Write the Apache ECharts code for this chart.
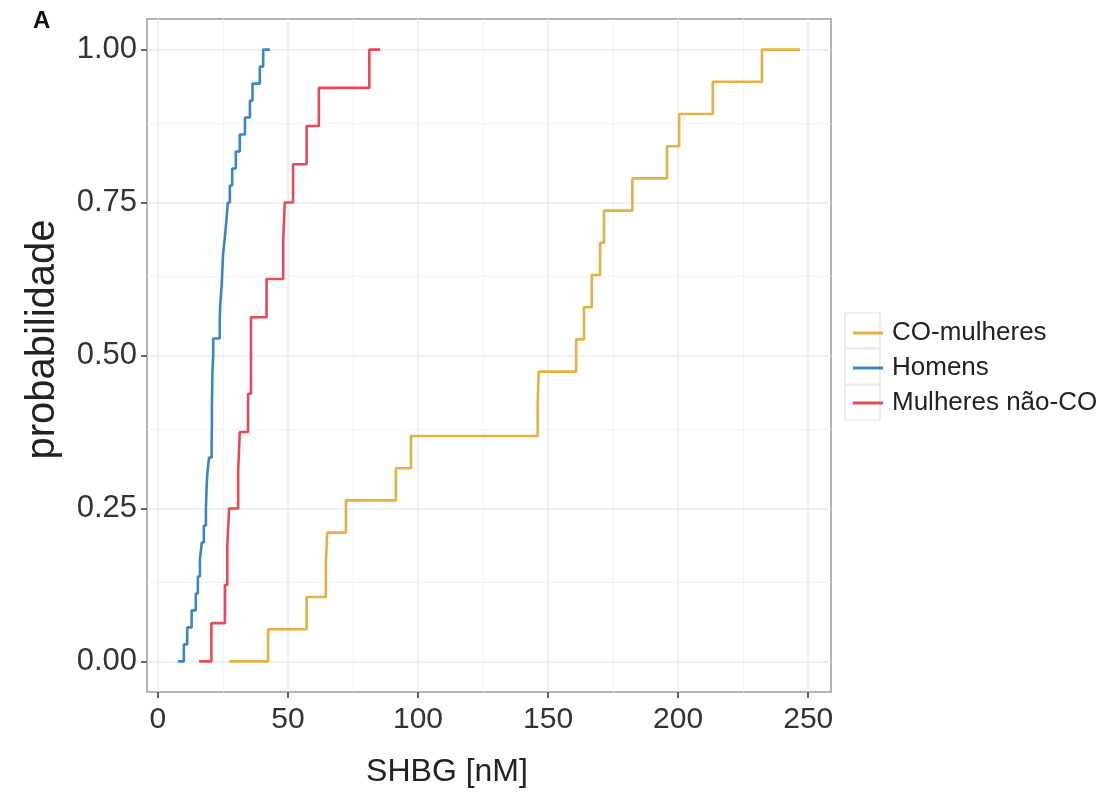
<!DOCTYPE html>
<html>
<head>
<meta charset="utf-8">
<script src="https://cdn.jsdelivr.net/npm/echarts@6/dist/echarts.min.js"></script>
<style>
  html, body { margin: 0; padding: 0; background: #fff; }
  #chart { width: 1105px; height: 793px; }
</style>
</head>
<body>
<div id="chart"></div>
<script>
  // amostras de SHBG [nM] (ja ordenadas)
  const coMulheres = [42.4, 57.2, 64.6, 65.1, 72.3, 91.5, 97.3, 146.0, 146.4, 160.8,
    163.8, 166.8, 170.0, 171.5, 182.4, 195.7, 200.4, 213.3, 232.2];
  const homens = [10.0, 11.3, 13.0, 14.6, 15.4, 16.2, 16.9, 17.7, 18.5, 18.7, 19.0, 19.7,
    20.7, 20.8, 20.8, 20.9, 21.0, 21.3, 21.3, 23.8, 24.0, 24.5, 24.8, 25.1, 25.8, 26.4,
    26.9, 27.7, 28.6, 30.0, 31.5, 33.5, 35.4, 36.4, 39.2, 40.5];
  const mulheresNaoCO = [20.6, 25.8, 26.7, 27.4, 30.9, 31.5, 34.7, 35.8, 35.8, 41.8,
    48.2, 48.8, 52.0, 57.2, 61.9, 81.3];

  // inicio e fim de cada curva no eixo x
  const limites = {
    'CO-mulheres': [27.4, 246.8],
    'Homens': [7.8, 43.1],
    'Mulheres não-CO': [15.9, 85.4]
  };

  const nomes = ['CO-mulheres', 'Homens', 'Mulheres não-CO'];
  const cores = ['#E8B040', '#3A85C4', '#E84A55'];

  const xTicks = [0, 50, 100, 150, 200, 250];
  const xMinor = [25, 75, 125, 175, 225];
  const yTicks = [0, 0.25, 0.5, 0.75, 1];
  const yMinor = [0.125, 0.375, 0.625, 0.875];

  // ecdf: cada amostra sobe 1/n
  function ecdf(amostras, lim) {
    const n = amostras.length;
    const pts = [[lim[0], 0]];
    amostras.forEach(function (v, i) { pts.push([v, (i + 1) / n]); });
    pts.push([lim[1], 1]);
    return pts;
  }

  const dados = [coMulheres, homens, mulheresNaoCO];

  const series = nomes.map(function (nome, i) {
    return {
      name: nome,
      type: 'line',
      step: 'end',
      data: ecdf(dados[i], limites[nome]),
      showSymbol: false,
      symbol: 'none',
      lineStyle: { color: cores[i], width: 2.6 },
      itemStyle: { color: cores[i] },
      z: 3
    };
  });

  // linhas de grade do tema (maiores e menores)
  series.unshift({
    type: 'line',
    data: [],
    silent: true,
    z: 0,
    markLine: {
      silent: true,
      symbol: 'none',
      label: { show: false },
      z: 0,
      data: []
        .concat(xMinor.map(function (v) { return { xAxis: v, lineStyle: { color: '#F3F3F3', width: 1, type: 'solid' } }; }))
        .concat(yMinor.map(function (v) { return { yAxis: v, lineStyle: { color: '#F3F3F3', width: 1, type: 'solid' } }; }))
        .concat(xTicks.map(function (v) { return { xAxis: v, lineStyle: { color: '#EBEBEB', width: 1.5, type: 'solid' } }; }))
        .concat(yTicks.map(function (v) { return { yAxis: v, lineStyle: { color: '#EBEBEB', width: 1.5, type: 'solid' } }; }))
    }
  });

  const chart = echarts.init(document.getElementById('chart'));

  // caixinhas cinza das chaves da legenda
  const caixas = [313, 349, 385].map(function (y) {
    return {
      type: 'rect',
      shape: { x: 845, y: y, width: 35, height: 35 },
      style: { fill: 'none', stroke: '#E2E2E2', lineWidth: 1.2 },
      z: 0
    };
  });

  const option = {
    animation: false,
    backgroundColor: '#fff',
    textStyle: { fontFamily: 'Liberation Sans, Arial, sans-serif' },
    title: {
      text: 'A',
      left: 28,
      top: 4,
      textStyle: { fontSize: 24, fontWeight: 'bold', color: '#111', fontFamily: 'Liberation Sans, Arial' }
    },
    graphic: caixas,
    grid: {
      left: 147,
      right: 274,
      top: 19,
      bottom: 99,
      show: true,
      borderColor: '#9a9a9a',
      borderWidth: 1.5,
      backgroundColor: '#fff'
    },
    legend: {
      orient: 'vertical',
      left: 848,
      top: 315,
      itemWidth: 30,
      itemHeight: 3,
      itemGap: 9,
      icon: 'rect',
      data: nomes,
      textStyle: { fontSize: 26, color: '#222', padding: [0, 0, 0, 4] }
    },
    xAxis: {
      type: 'value',
      min: -4.15,
      max: 258.75,
      name: 'SHBG [nM]',
      nameLocation: 'middle',
      nameGap: 64,
      nameTextStyle: { fontSize: 32, color: '#222', padding: [0, 84, 0, 0] },
      axisLine: { show: false, onZero: false },
      axisTick: { show: true, length: 6, lineStyle: { color: '#333', width: 1.5 }, customValues: xTicks },
      axisLabel: { fontSize: 30, color: '#333', margin: 13, customValues: xTicks },
      splitLine: { show: false }
    },
    yAxis: {
      type: 'value',
      min: -0.05,
      max: 1.05,
      name: 'probabilidade',
      nameLocation: 'middle',
      nameGap: 84,
      nameRotate: 90,
      nameTextStyle: { fontSize: 40, color: '#222', padding: [0, 0, 0, 32] },
      axisLine: { show: false, onZero: false },
      axisTick: { show: true, length: 6, lineStyle: { color: '#333', width: 1.5 }, customValues: yTicks },
      axisLabel: {
        fontSize: 31, color: '#333', margin: 10, customValues: yTicks,
        formatter: function (v) { return v.toFixed(2); }
      },
      splitLine: { show: false }
    },
    series: series
  };

  chart.setOption(option);
</script>
</body>
</html>
